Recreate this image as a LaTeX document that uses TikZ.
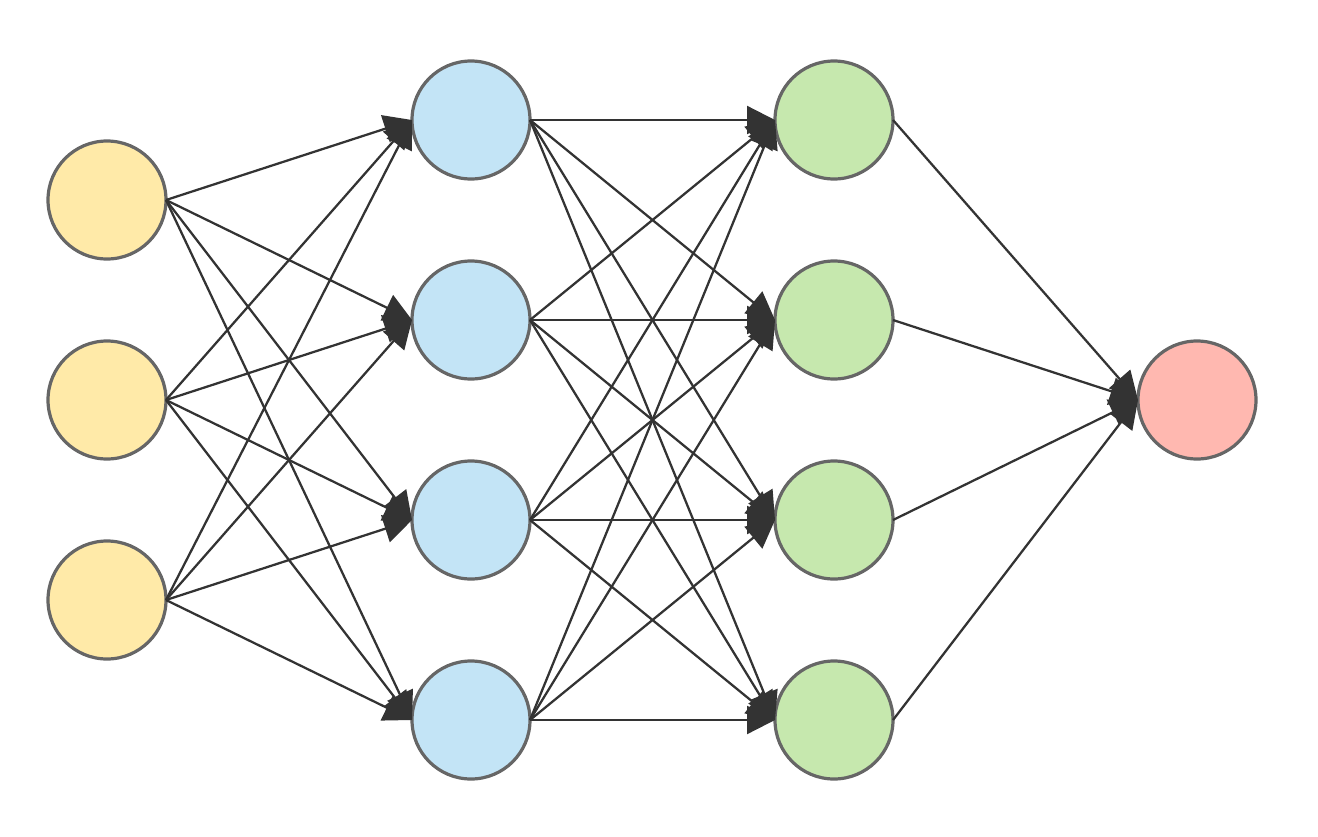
\documentclass[tikz,border=0pt]{standalone}
\usetikzlibrary{arrows.meta}

\definecolor{inputfill}{HTML}{FFEAA8}
\definecolor{hiddenfill}{HTML}{C3E4F6}
\definecolor{secondfill}{HTML}{C6E8AE}
\definecolor{outputfill}{HTML}{FFB8B0}
\definecolor{ringgrey}{HTML}{666666}
\definecolor{wiregrey}{HTML}{333333}

\begin{document}
\begin{tikzpicture}[x=0.75pt,y=-0.75pt,
    neuron/.style={circle,draw=ringgrey,line width=2.4pt,minimum size=88.5pt,
      inner sep=0pt,outer sep=0pt},
    synapse/.style={draw=wiregrey,line width=1.7pt,
      -{Triangle[length=21pt,width=21pt]}}]
  \useasboundingbox (0,0) rectangle (1318,836);
  % Layers of neurons
  \foreach \y/\n in {200/1,400/2,600/3}
    \node[neuron,fill=inputfill] (in\n) at (107,\y) {};
  \foreach \y/\n in {120/1,320/2,520/3,720/4} {
    \node[neuron,fill=hiddenfill] (ha\n) at (471,\y) {};
    \node[neuron,fill=secondfill] (hb\n) at (834,\y) {};
  }
  \node[neuron,fill=outputfill] (out) at (1197,400) {};
  % Connections between layers
  \foreach \i in {1,2,3}
    \foreach \j in {1,...,4}
      \draw[synapse] (in\i.east) -- (ha\j.west);
  \foreach \i in {1,...,4}
    \foreach \j in {1,...,4}
      \draw[synapse] (ha\i.east) -- (hb\j.west);
  \foreach \i in {1,...,4}
    \draw[synapse] (hb\i.east) -- (out.west);
\end{tikzpicture}
\end{document}
